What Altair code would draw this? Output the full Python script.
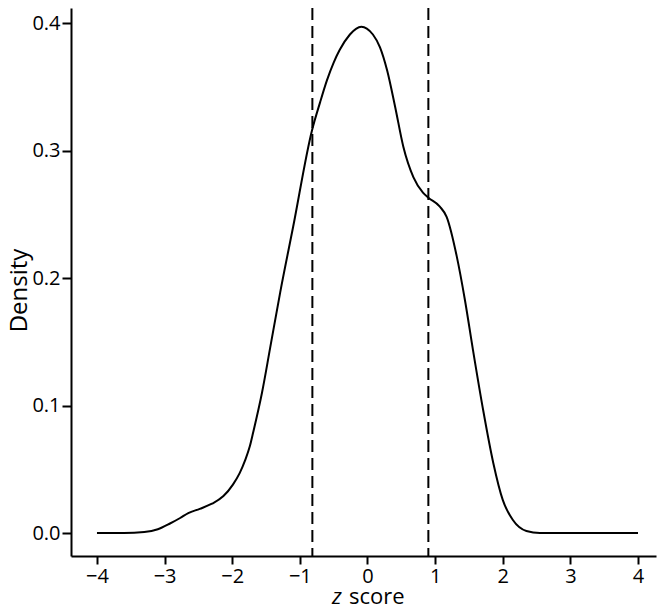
import altair as alt
import pandas as pd

# density curve
z_values = [-4.0, -3.6, -3.3, -3.1, -2.92, -2.77, -2.65, -2.48, -2.3, -2.13,
            -1.99, -1.89, -1.81, -1.74, -1.69, -1.56, -1.44, -1.29, -1.10, -0.82,
            -0.70, -0.60, -0.50, -0.41, -0.26, -0.17, -0.09, -0.01, 0.08, 0.185,
            0.29, 0.41, 0.53, 0.68, 0.82, 0.90, 1.07, 1.17, 1.32, 1.44, 1.56,
            1.71, 1.86, 2.0, 2.15, 2.35, 2.55, 3.0, 3.5, 4.0]
density = [0.0, 0.0, 0.0008, 0.003, 0.0075, 0.0118, 0.0157, 0.019, 0.023, 0.029,
           0.038, 0.047, 0.057, 0.068, 0.079, 0.11, 0.145, 0.189, 0.240, 0.316,
           0.338, 0.355, 0.369, 0.379, 0.391, 0.3955, 0.397, 0.3957, 0.391, 0.381,
           0.363, 0.334, 0.303, 0.279, 0.267, 0.263, 0.256, 0.248, 0.217, 0.183, 0.1435,
           0.0965, 0.055, 0.026, 0.0102, 0.0016, 0.0, 0.0, 0.0, 0.0]
cutoffs = [-0.815, 0.90]
x_ticks = [-4, -3, -2, -1, 0, 1, 2, 3, 4]
y_ticks = [0.0, 0.1, 0.2, 0.3, 0.4]

curve_df = pd.DataFrame({"z": z_values, "density": density})
cut_df = pd.DataFrame({"z": cutoffs})

FONT = "Open Sans"

xscale = alt.Scale(domain=[-4.384, 4.266], nice=False, zero=False)
yscale = alt.Scale(domain=[-0.018, 0.4118], nice=False, zero=False)

line = alt.Chart(curve_df).mark_line(color="black", strokeWidth=2, interpolate="monotone").encode(
    x=alt.X("z:Q", scale=xscale,
            axis=alt.Axis(values=x_ticks, format="d", title=None,
                          labelFontSize=20, labelFont=FONT, tickSize=8, labelPadding=2)),
    y=alt.Y("density:Q", scale=yscale,
            axis=alt.Axis(values=y_ticks, format=".1f", title="Density",
                          labelFontSize=20, labelFont=FONT, tickSize=9, labelPadding=2,
                          titleFontSize=24, titleFontWeight="normal",
                          titleX=-40, titleY=282)),
)

rules = alt.Chart(cut_df).mark_rule(color="black", strokeWidth=2, strokeDash=[12, 6]).encode(
    x=alt.X("z:Q", scale=xscale)
)

title_df = pd.DataFrame({"t": ["z"]})
zt = alt.Chart(title_df).mark_text(fontSize=22, fontStyle="italic", font=FONT, align="left",
                                   baseline="alphabetic", color="black").encode(
    text="t:N", x=alt.value(261), y=alt.value(596))
score_df = pd.DataFrame({"t": ["score"]})
st = alt.Chart(score_df).mark_text(fontSize=22, font=FONT, align="left",
                                   baseline="alphabetic", color="black").encode(
    text="t:N", x=alt.value(278), y=alt.value(596))

chart = alt.layer(line, rules, zt, st).properties(
    width=585, height=548,
    autosize=alt.AutoSizeParams(type="none"),
    padding={"left": 63, "top": 0, "right": 2, "bottom": 49},
).configure_view(stroke=None).configure_axis(
    grid=False,
    domainColor="black", domainWidth=2,
    tickColor="black", tickWidth=2,
    labelColor="black", titleColor="black",
    labelFont=FONT, titleFont=FONT,
)

chart.save("out.html", embed_options={"renderer": "svg", "actions": False})
